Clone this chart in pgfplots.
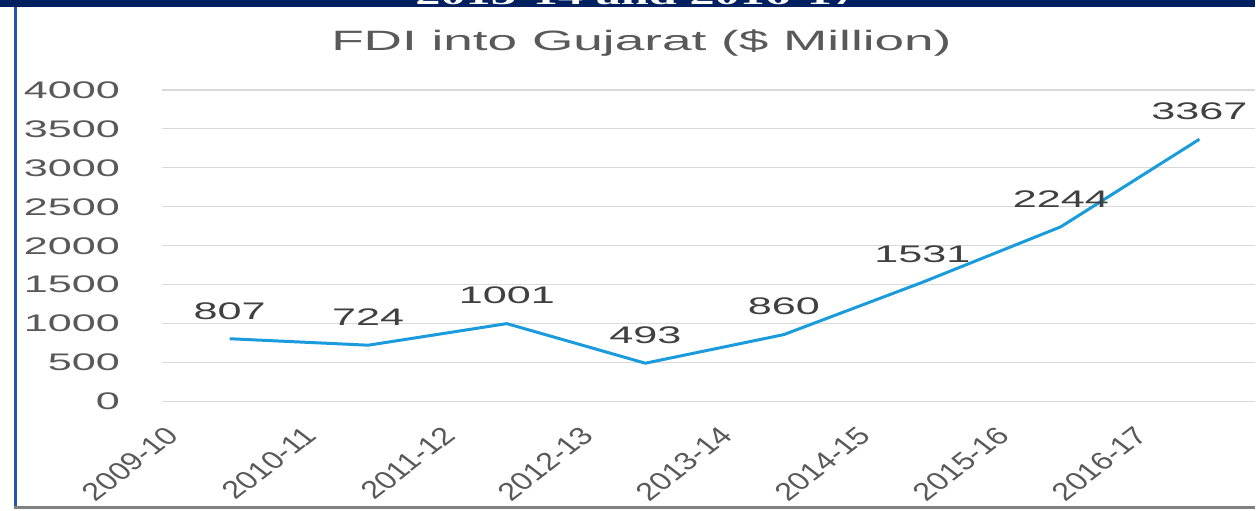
\documentclass[border=0pt]{standalone}
\usepackage{fontspec}
\setmainfont{Liberation Sans}
\newfontfamily\tickfont[FakeStretch=1.8]{Liberation Sans}
\newfontfamily\titlefont[FakeStretch=1.9]{Liberation Sans}
\newfontfamily\bannerfont[FakeStretch=1.8]{Liberation Serif}
\usepackage{pgfplots}
\pgfplotsset{compat=1.18}
\definecolor{cLine}{HTML}{1A9BDB}
\definecolor{cGrid}{HTML}{D9D9D9}
\definecolor{cTick}{HTML}{595959}
\definecolor{cLab}{HTML}{404040}
\definecolor{cNavy}{HTML}{002060}
\definecolor{cEdge}{HTML}{2257A8}

\begin{document}
\begin{tikzpicture}
% page frame (1px = 0.5pt)
\fill[white] (0,0) rectangle (628pt,254.5pt);
\fill[cNavy] (0,251pt) rectangle (628pt,254.5pt);
\begin{scope}
  \clip (0,251pt) rectangle (628pt,254.5pt);
  \node[anchor=base, text=white, inner sep=0pt, font=\bannerfont\bfseries\fontsize{14}{16}\selectfont]
    at (318.5pt,252pt) {2013-14 and 2016-17};
\end{scope}
\draw[cEdge, line width=1.5pt] (7.75pt,0) -- (7.75pt,251pt);
\draw[gray, line width=1.2pt] (7pt,0.6pt) -- (628pt,0.6pt);

\node[anchor=base, text=cTick, inner sep=0pt, font=\titlefont\fontsize{14}{16}\selectfont]
  at (321pt,229pt) {FDI into Gujarat (\$ Million)};

\begin{axis}[
  at={(81pt,53.5pt)}, anchor=south west,
  scale only axis, width=547pt, height=156pt,
  xmin=-0.49, xmax=7.4, ymin=0, ymax=4000,
  clip=false,
  axis line style={draw=none},
  major tick length=0pt,
  ymajorgrids, grid style={cGrid, line width=0.6pt},
  ytick={0,500,...,4000},
  xtick={0,...,7},
  xticklabels={2009-10,2010-11,2011-12,2012-13,2013-14,2014-15,2015-16,2016-17},
  /pgf/number format/assume math mode=true,
  /pgf/number format/1000 sep={},
  yticklabel style={font=\tickfont\fontsize{12}{14}\selectfont, text=cTick, anchor=east, xshift=-17.5pt},
  xticklabel style={font=\fontsize{12.5}{14}\selectfont, text=cTick, inner sep=1pt,
    xshift=-33pt, yshift=-10pt, xscale=1.3, rotate=45, anchor=north east},
  nodes near coords,
  every node near coord/.append style={font=\tickfont\fontsize{12}{14}\selectfont, text=cLab, anchor=center, yshift=14pt},
]
\addplot[cLine, line width=1.5pt, mark=none] coordinates {
  (0,807) (1,724) (2,1001) (3,493) (4,860) (5,1531) (6,2244) (7,3367)
};
\end{axis}
\end{tikzpicture}
\end{document}
